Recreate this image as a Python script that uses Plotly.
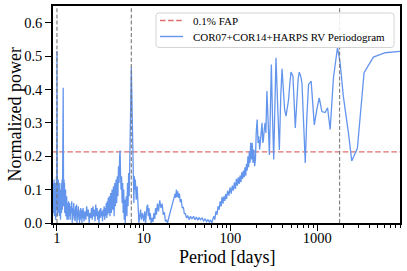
import math
import plotly.graph_objects as go

# ---- data ----
fap_level = 0.213
vline_periods = [1.0, 7.2, 1810.0]
x_limits = [0.9, 9000.0]
y_limits = [0.0, 0.65]
x_tick_vals = [1, 10, 100, 1000]
x_tick_text = ["1", "10", "100", "1000"]
y_tick_vals = [0.0, 0.1, 0.2, 0.3, 0.4, 0.5, 0.6]
legend_labels = ["0.1% FAP", "COR07+COR14+HARPS RV Periodogram"]
x_title = "Period [days]"
y_title = "Normalized power"

# (period [days], normalized power)
short_pairs = [
    (0.900, 0.09), (0.905, 0.03), (0.910, 0.12), (0.915, 0.04), (0.920, 0.06), (0.926, 0.13),
    (0.932, 0.02), (0.938, 0.11), (0.944, 0.05), (0.950, 0.12), (0.956, 0.03), (0.962, 0.09),
    (0.968, 0.01), (0.974, 0.10), (0.980, 0.04), (0.986, 0.14), (0.992, 0.08), (0.996, 0.30),
    (1.000, 0.515), (1.004, 0.28), (1.008, 0.10),
    (1.015, 0.02), (1.022, 0.12), (1.029, 0.05), (1.036, 0.13), (1.043, 0.03), (1.050, 0.11),
    (1.057, 0.06), (1.064, 0.12), (1.071, 0.02), (1.078, 0.10), (1.085, 0.04), (1.092, 0.09),
    (1.099, 0.01), (1.106, 0.11), (1.113, 0.05), (1.120, 0.12), (1.127, 0.03), (1.134, 0.10),
    (1.141, 0.06), (1.148, 0.13), (1.155, 0.04), (1.162, 0.15), (1.170, 0.08), (1.176, 0.30),
    (1.180, 0.405), (1.184, 0.28), (1.190, 0.12), (1.197, 0.05), (1.205, 0.13), (1.213, 0.07),
    (1.221, 0.12), (1.229, 0.03), (1.238, 0.11), (1.247, 0.05), (1.256, 0.10), (1.265, 0.02),
    (1.275, 0.09), (1.285, 0.04), (1.295, 0.08), (1.305, 0.01), (1.316, 0.07), (1.327, 0.03),
    (1.338, 0.06), (1.350, 0.01), (1.360, 0.065),
    (1.38, 0.02), (1.40, 0.06), (1.42, 0.01), (1.44, 0.05), (1.46, 0.03), (1.48, 0.065),
    (1.50, 0.0), (1.52, 0.045), (1.54, 0.02), (1.56, 0.06), (1.58, 0.01), (1.60, 0.04),
    (1.62, 0.005), (1.64, 0.05), (1.66, 0.02), (1.68, 0.055), (1.70, 0.0), (1.72, 0.035),
    (1.74, 0.01), (1.76, 0.05), (1.78, 0.02), (1.80, 0.04), (1.82, 0.0), (1.84, 0.03),
    (1.86, 0.01), (1.88, 0.045), (1.90, 0.02), (1.92, 0.035), (1.94, 0.0), (1.96, 0.04),
    (1.98, 0.015),
    (2.00, 0.045), (2.05, 0.005), (2.10, 0.035), (2.15, 0.01), (2.20, 0.05), (2.25, 0.02),
    (2.30, 0.04), (2.35, 0.0), (2.40, 0.03), (2.45, 0.015), (2.50, 0.045), (2.55, 0.01),
    (2.60, 0.05), (2.65, 0.02), (2.70, 0.04), (2.75, 0.005), (2.80, 0.055), (2.85, 0.02),
    (2.90, 0.045), (2.95, 0.01), (3.00, 0.035), (3.05, 0.0), (3.10, 0.04), (3.15, 0.015),
    (3.20, 0.045), (3.25, 0.02), (3.30, 0.035), (3.35, 0.005), (3.40, 0.04), (3.45, 0.02),
    (3.50, 0.05), (3.55, 0.01), (3.60, 0.045), (3.65, 0.02), (3.70, 0.06), (3.75, 0.015),
    (3.80, 0.065), (3.85, 0.025), (3.90, 0.075), (3.95, 0.03),
    (4.00, 0.08), (4.08, 0.02), (4.16, 0.09), (4.24, 0.03), (4.32, 0.10), (4.40, 0.04),
    (4.48, 0.11), (4.56, 0.02), (4.64, 0.12), (4.72, 0.05), (4.80, 0.13), (4.88, 0.06),
    (4.96, 0.14), (5.04, 0.08), (5.12, 0.17), (5.20, 0.12), (5.28, 0.20), (5.34, 0.217),
    (5.40, 0.15), (5.48, 0.10), (5.56, 0.14), (5.64, 0.06), (5.72, 0.12), (5.80, 0.03),
    (5.88, 0.10), (5.96, 0.01), (6.04, 0.07), (6.12, 0.0), (6.20, 0.05),
    (6.3, 0.08), (6.4, 0.02), (6.5, 0.12), (6.6, 0.05), (6.7, 0.15), (6.8, 0.08),
    (6.9, 0.20), (7.0, 0.30), (7.1, 0.40), (7.2, 0.466), (7.3, 0.38), (7.4, 0.25),
    (7.5, 0.12), (7.6, 0.18), (7.7, 0.06), (7.8, 0.14), (7.9, 0.10), (8.0, 0.13),
    (8.2, 0.07), (8.4, 0.11), (8.6, 0.03), (8.8, 0.0), (9.0, 0.02), (9.2, 0.04),
]

mid_pairs = [
    (9.4, 0.01), (9.7, 0.03), (10.0, 0.005), (10.3, 0.035), (10.5, 0.0), (10.7, 0.04),
    (10.9, 0.05), (11.1, 0.055), (11.3, 0.02), (11.5, 0.045), (11.7, 0.01), (11.9, 0.03),
    (12.2, 0.0), (12.5, 0.015), (12.8, 0.003), (13.1, 0.03), (13.4, 0.012), (13.7, 0.045),
    (14.0, 0.025), (14.4, 0.058), (14.8, 0.035), (15.3, 0.068), (15.8, 0.045), (16.3, 0.058),
    (16.8, 0.025), (17.3, 0.032), (17.8, 0.005), (18.3, 0.008), (18.8, 0.0), (19.4, 0.015),
    (20.0, 0.028), (20.6, 0.04), (21.2, 0.05), (21.8, 0.062), (22.4, 0.072), (23.0, 0.088),
    (23.4, 0.075), (23.8, 0.10), (24.2, 0.078), (24.7, 0.095), (25.2, 0.075), (25.8, 0.088),
    (26.4, 0.062), (27.0, 0.072), (27.8, 0.045), (28.6, 0.048), (29.4, 0.028), (30.2, 0.028),
    (31.2, 0.015), (32.2, 0.022), (33.4, 0.01), (34.6, 0.02), (36.0, 0.012), (37.5, 0.02),
    (39.0, 0.01), (40.5, 0.018), (42.0, 0.008), (43.5, 0.016), (45.0, 0.01), (47.0, 0.015),
    (49.0, 0.006), (51.0, 0.013), (53.0, 0.004), (55.0, 0.01), (57.0, 0.003), (59.0, 0.008),
    (61.0, 0.0),
]

rise_pairs = [
    (62, 0.005), (64, 0.02), (66, 0.01), (68, 0.035), (70, 0.025), (72, 0.05), (74, 0.04),
    (76, 0.065), (78, 0.05), (80, 0.078), (82, 0.058), (84, 0.08), (86, 0.066), (88, 0.087),
    (90, 0.072), (93, 0.097), (96, 0.082), (99, 0.107), (102, 0.088), (105, 0.112), (108, 0.097),
    (111, 0.122), (114, 0.102), (117, 0.132), (120, 0.112), (123, 0.137), (126, 0.117),
    (129, 0.142), (132, 0.122), (135, 0.152), (138, 0.132), (141, 0.157), (144, 0.137),
    (147, 0.167), (150, 0.142), (153, 0.177), (156, 0.157), (159, 0.20), (162, 0.167),
    (165, 0.215), (168, 0.18), (171, 0.24),
]

long_pairs = [
    (175, 0.19), (178, 0.24), (182, 0.18), (186, 0.22), (190, 0.17), (194, 0.19), (198, 0.27),
    (203, 0.31), (208, 0.24), (212, 0.26), (217, 0.22), (224, 0.27), (231, 0.30), (236, 0.24),
    (240, 0.25), (245, 0.28), (251, 0.30), (256, 0.27), (263, 0.395), (272, 0.30), (281, 0.204),
    (288, 0.33), (296, 0.475), (305, 0.32), (315, 0.19), (325, 0.35), (335, 0.495), (350, 0.35),
    (366, 0.219), (380, 0.38), (393, 0.462), (407, 0.40), (421, 0.34), (437, 0.32), (452, 0.34),
    (468, 0.37), (484, 0.42), (499, 0.452), (525, 0.44), (542, 0.36), (559, 0.285), (584, 0.37),
    (602, 0.43), (621, 0.452), (645, 0.44), (667, 0.42), (697, 0.30), (728, 0.18), (760, 0.32),
    (795, 0.415), (851, 0.425), (890, 0.36), (925, 0.294), (990, 0.34), (1055, 0.375),
    (1132, 0.334), (1233, 0.331), (1316, 0.345), (1410, 0.28), (1539, 0.435), (1711, 0.525),
    (1837, 0.48), (1998, 0.38), (2290, 0.27), (2500, 0.186), (2904, 0.224), (3468, 0.45),
    (4440, 0.497), (6070, 0.51), (9000, 0.514),
]

pairs = short_pairs + mid_pairs + rise_pairs + long_pairs
period = [p for p, _ in pairs]
power = [v for _, v in pairs]

FONT = "Liberation Serif"
FAP_COLOR = "rgba(214,60,60,0.75)"
FAP_DASH = "5.5px,2.6px"
PG_COLOR = "#6495ED"

fig = go.Figure()

fig.add_trace(go.Scatter(
    x=[x_limits[0] * 0.5, x_limits[1] * 2.0], y=[fap_level, fap_level],
    mode="lines", name=legend_labels[0], showlegend=False,
    line=dict(color=FAP_COLOR, width=1.4, dash=FAP_DASH),
))
fig.add_trace(go.Scatter(
    x=period, y=power, mode="lines", name=legend_labels[1], showlegend=False,
    line=dict(color=PG_COLOR, width=1.3),
))

for vp in vline_periods:
    fig.add_shape(type="line", xref="x", yref="paper", x0=vp, x1=vp, y0=0, y1=1,
                  line=dict(color="rgba(110,110,110,0.85)", width=1.2, dash="4px,2.2px"),
                  layer="above")

# ---- legend box (drawn by hand for exact spacing) ----
PLOT_W, PLOT_H = 347.0, 217.0
def px_x(v):
    return v / PLOT_W
def px_y(v):
    return v / PLOT_H

bx0, bx1 = px_x(103), px_x(341)
by1, by0 = 1 - px_y(7), 1 - px_y(41.5)
rx, ry = px_x(3), px_y(3)
box_path = (
    f"M {bx0+rx},{by1} L {bx1-rx},{by1} Q {bx1},{by1} {bx1},{by1-ry} "
    f"L {bx1},{by0+ry} Q {bx1},{by0} {bx1-rx},{by0} L {bx0+rx},{by0} "
    f"Q {bx0},{by0} {bx0},{by0+ry} L {bx0},{by1-ry} Q {bx0},{by1} {bx0+rx},{by1} Z"
)
fig.add_shape(type="path", xref="paper", yref="paper", path=box_path,
              fillcolor="rgba(255,255,255,0.85)", line=dict(color="#d4d4d4", width=1),
              layer="above")

entry_y = [1 - px_y(14.5), 1 - px_y(30.5)]
sample_x0, sample_x1 = px_x(107), px_x(130)
text_x = px_x(138)
entry_styles = [dict(color=FAP_COLOR, width=1.4, dash=FAP_DASH),
                dict(color=PG_COLOR, width=1.4)]
for label, ey, st in zip(legend_labels, entry_y, entry_styles):
    fig.add_shape(type="line", xref="paper", yref="paper",
                  x0=sample_x0, x1=sample_x1, y0=ey, y1=ey, line=st, layer="above")
    fig.add_annotation(text=label, xref="paper", yref="paper", x=text_x, y=ey,
                       xanchor="left", yanchor="middle", showarrow=False,
                       font=dict(family=FONT, size=11, color="black"))

# ---- axis titles ----
fig.add_annotation(text=x_title, xref="paper", yref="paper", x=0.5, y=-px_y(33.5),
                   xanchor="center", yanchor="middle", showarrow=False,
                   font=dict(family=FONT, size=18, color="black"))
fig.add_annotation(text=y_title, xref="paper", yref="paper", x=-px_x(39), y=0.5,
                   xanchor="center", yanchor="middle", textangle=-90, showarrow=False,
                   font=dict(family=FONT, size=18, color="black"))

minor_vals = [k * 10 ** n for n in range(-1, 4) for k in range(2, 10)]

fig.update_xaxes(
    type="log", range=[math.log10(x_limits[0]), math.log10(x_limits[1])],
    automargin=False,
    tickmode="array", tickvals=x_tick_vals, ticktext=x_tick_text,
    ticks="outside", ticklen=6, tickwidth=1.4, tickcolor="black",
    ticklabelstandoff=-5,
    minor=dict(tickmode="array", tickvals=minor_vals, ticks="outside", ticklen=3.5,
               tickwidth=1.0, tickcolor="black", showgrid=False),
    showline=True, linecolor="black", linewidth=1.5, mirror=True,
    showgrid=False, zeroline=False,
    tickfont=dict(family=FONT, size=14.5, color="black"),
)
fig.update_yaxes(
    range=y_limits, automargin=False,
    tickmode="array", tickvals=y_tick_vals, tickformat=".1f",
    ticks="outside", ticklen=6, tickwidth=1.4, tickcolor="black",
    showline=True, linecolor="black", linewidth=1.5, mirror=True,
    showgrid=False, zeroline=False,
    tickfont=dict(family=FONT, size=14.5, color="black"),
)

fig.update_layout(
    template="none",
    width=407, height=271,
    margin=dict(l=53, r=7, t=6, b=48, autoexpand=False),
    paper_bgcolor="white", plot_bgcolor="white",
    showlegend=False,
    font=dict(family=FONT, color="black"),
)

fig.write_html(
    "out.html",
    config={"displayModeBar": False},
    post_script="document.body.style.margin='0';document.body.style.padding='0';document.body.style.overflow='hidden';",
)
